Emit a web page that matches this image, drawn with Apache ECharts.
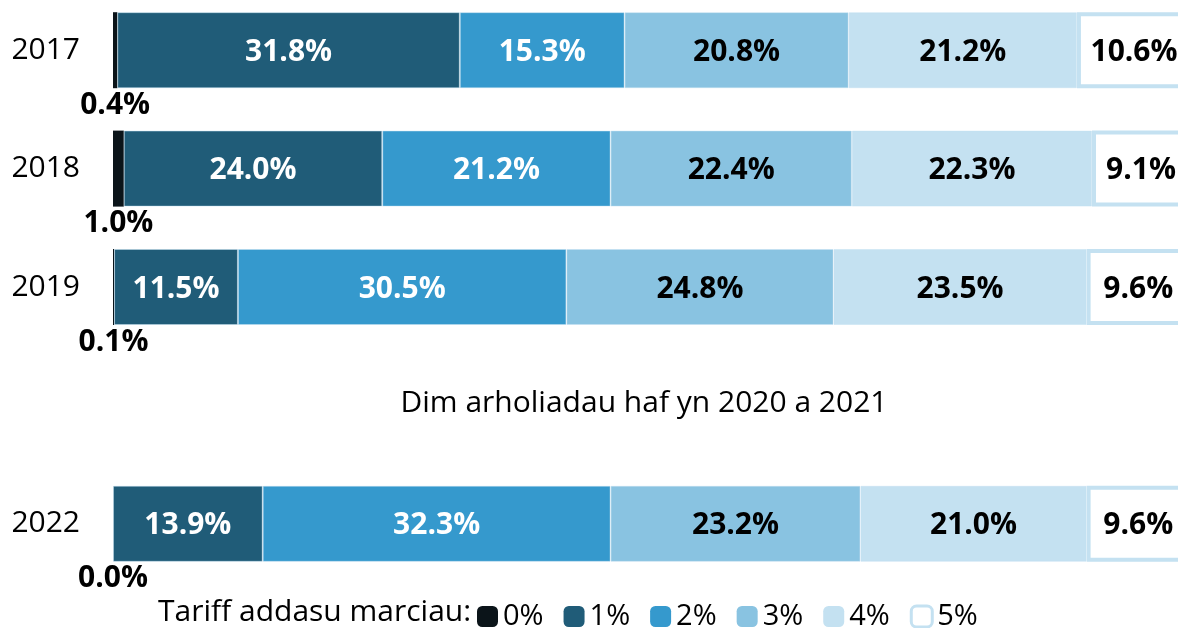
<!DOCTYPE html>
<html>
<head>
<meta charset="utf-8">
<script src="https://cdn.jsdelivr.net/npm/echarts@6/dist/echarts.min.js"></script>
<style>
html,body{margin:0;padding:0;background:#fff;overflow:hidden;}
#c{width:1200px;height:640px;margin-top:-9px;}
</style>
</head>
<body>
<div id="c"></div>
<script>
const years = ['2017', '2018', '2019', '', '2022'];
const seriesNames = ['0%', '1%', '2%', '3%', '4%', '5%'];
const v0 = [0.4, 1.0, 0.1, null, 0.0];
const v1 = [31.8, 24.0, 11.5, null, 13.9];
const v2 = [15.3, 21.2, 30.5, null, 32.3];
const v3 = [20.8, 22.4, 24.8, null, 23.2];
const v4 = [21.2, 22.3, 23.5, null, 21.0];
const v5 = [10.6, 9.1, 9.6, null, 9.6];
const gapText = 'Dim arholiadau haf yn 2020 a 2021';
const legendTitle = 'Tariff addasu marciau:';

const FONT = '"Open Sans", "Noto Sans", sans-serif';
const colors = ['#0b1419', '#205c78', '#3599cd', '#89c3e1', '#c4e1f1', '#ffffff'];
const labelColors = ['#000', '#fff', '#fff', '#000', '#000', '#000'];
const allValues = [v0, v1, v2, v3, v4, v5];

const chart = echarts.init(document.getElementById('c'), null, {renderer: 'canvas'});

const series = allValues.map((vals, i) => {
  const s = {
    name: seriesNames[i],
    type: 'bar',
    stack: 'total',
    barWidth: 76,
    data: vals,
    itemStyle: {color: colors[i], borderColor: 'rgba(196,225,241,0.45)', borderWidth: 1},
    emphasis: {disabled: true},
    label: {
      show: true,
      position: 'inside',
      offset: [0, 2],
      formatter: p => (p.value == null ? '' : p.value.toFixed(1) + '%'),
      color: labelColors[i],
      fontFamily: FONT,
      fontWeight: 'bold',
      fontSize: 30
    }
  };
  if (i === 0) {
    s.label.position = 'bottom';
    s.label.distance = 2;
    s.label.offset = [0, 0];
    s.itemStyle.borderWidth = 0;
  }
  if (i === 5) {
    s.itemStyle.borderColor = '#c4e1f1';
    s.itemStyle.borderWidth = 4;
  }
  return s;
});

chart.setOption({
  animation: false,
  backgroundColor: '#fff',
  grid: {left: 113, top: 0, width: 1077, height: 592, containLabel: false},
  xAxis: {type: 'value', min: 0, max: 100, show: false},
  yAxis: {
    type: 'category',
    data: years,
    inverse: true,
    axisLine: {show: false},
    axisTick: {show: false},
    axisLabel: {color: '#000', fontFamily: FONT, fontSize: 30, margin: 33}
  },
  legend: {
    left: 472,
    top: 606,
    itemWidth: 21,
    itemHeight: 21,
    itemGap: 20,
    icon: 'roundRect',
    textStyle: {color: '#000', fontFamily: FONT, fontSize: 29},
    data: seriesNames.map((n, i) => ({
      name: n,
      itemStyle: i === 5 ? {color: '#fff', borderColor: '#c4e1f1', borderWidth: 3} : {color: colors[i], borderWidth: 0}
    }))
  },
  graphic: [
    {type: 'text', left: 158, top: 606, style: {text: legendTitle, fill: '#000', font: '30px ' + FONT}},
    {type: 'text', x: 644, y: 412, style: {text: gapText, fill: '#000', font: '30px ' + FONT, align: 'center', verticalAlign: 'middle'}}
  ],
  series: series
});
</script>
</body>
</html>
